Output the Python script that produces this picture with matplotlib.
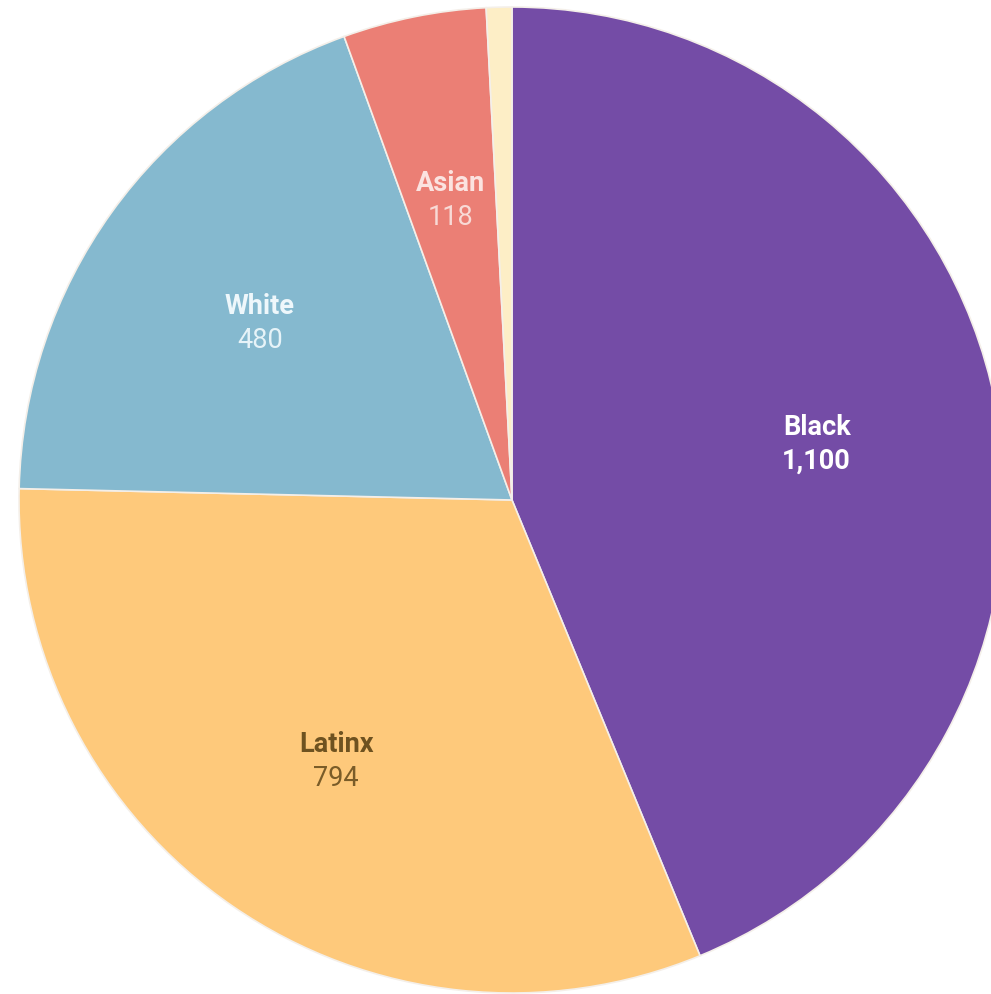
import matplotlib
matplotlib.use("Agg")
import matplotlib.pyplot as plt
import numpy as np

categories = ["Black", "Latinx", "White", "Asian", "Other"]
values = [1100, 794, 480, 118, 21]
value_labels = ["1,100", "794", "480", "118", ""]
colors = ["#744ca6", "#fec97b", "#85b9cf", "#eb7f75", "#fdeec6"]
name_colors = ["#ffffff", "#6e5220", "#eef7fb", "#fbe3e0", None]
num_colors = ["#ffffff", "#7a5c28", "#e6f3f8", "#f8dad6", None]
num_bold = [True, False, False, False, False]

W, H = 991, 995
fig = plt.figure(figsize=(W / 100, H / 100), dpi=100)
ax = fig.add_axes([0, 0, 1, 1])
cx, cy, R = 512, H - 501, 493

wedges, _ = ax.pie(values, colors=colors, startangle=90, counterclock=False,
                   center=(cx, cy), radius=R,
                   wedgeprops=dict(edgecolor="#f4efe9", linewidth=1.2))
ax.set_xlim(0, W)
ax.set_ylim(0, H)
ax.set_aspect("equal")
ax.axis("off")

font = "Roboto"
for w, name, num, nc, vc, nb in zip(wedges, categories, value_labels,
                                    name_colors, num_colors, num_bold):
    if nc is None:
        continue
    ang = np.deg2rad((w.theta1 + w.theta2) / 2)
    r = 0.63 * R
    x = cx + r * np.cos(ang)
    y = cy + r * np.sin(ang) - 4
    ax.text(x, y + 17, name, ha="center", va="center", fontsize=19.5,
            fontweight="bold", color=nc, family=font)
    ax.text(x, y - 17, num, ha="center", va="center", fontsize=19.5,
            fontweight="bold" if nb else "normal", color=vc, family=font)

fig.savefig("out.png", dpi=100)
